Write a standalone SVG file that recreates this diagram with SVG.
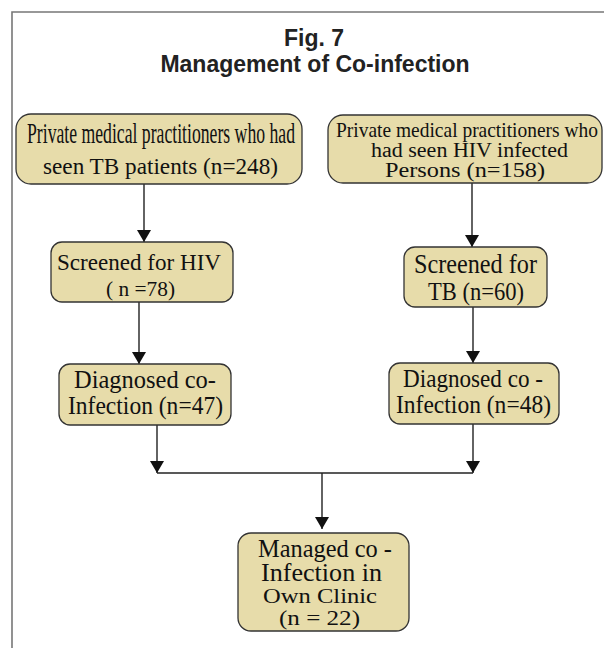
<svg xmlns="http://www.w3.org/2000/svg" width="604" height="648" viewBox="0 0 604 648">
<defs>
<style>
.box{fill:#E7DCAA;stroke:#333;stroke-width:1.3}
.t{font-family:"Liberation Serif","Times New Roman",serif;fill:#111;text-anchor:middle}
.title{font-family:"Liberation Sans",Arial,sans-serif;font-weight:bold;font-size:23px;fill:#222;text-anchor:middle}
.c{stroke:#222;stroke-width:1.4;fill:none}
.frame{stroke:#777;stroke-width:1.6;fill:none}
</style>
<marker id="ah" markerUnits="userSpaceOnUse" markerWidth="12" markerHeight="14" refX="12" refY="7" orient="auto" viewBox="0 0 12 14">
<path d="M0,0 L12,7 L0,14 z" fill="#111"/>
</marker>
</defs>
<rect width="604" height="648" fill="#fff"/>
<path class="frame" d="M12,648 V12 H604"/>
<g id="title">
<text class="title" x="314" y="46">Fig. 7</text>
<text class="title" x="315" y="72">Management of Co-infection</text>
</g>
<g id="connectors">
<line class="c" x1="144" y1="184" x2="144" y2="242" marker-end="url(#ah)"/>
<line class="c" x1="139" y1="302" x2="139" y2="364" marker-end="url(#ah)"/>
<line class="c" x1="472" y1="183" x2="472" y2="247" marker-end="url(#ah)"/>
<line class="c" x1="473" y1="307" x2="473" y2="363" marker-end="url(#ah)"/>
<line class="c" x1="157" y1="425" x2="157" y2="473" marker-end="url(#ah)"/>
<line class="c" x1="473" y1="424" x2="473" y2="473" marker-end="url(#ah)"/>
<line class="c" x1="157" y1="473" x2="473" y2="473" stroke="#444" stroke-width="1.6"/>
<line class="c" x1="322" y1="473" x2="322" y2="529" marker-end="url(#ah)"/>
</g>
<g id="node-tb-practitioners">
<rect class="box" x="16" y="114" width="286" height="70" rx="15"/>
<text class="t" x="161" y="143" font-size="29" textLength="268" lengthAdjust="spacingAndGlyphs">Private medical practitioners who had</text>
<text class="t" x="160.5" y="174" font-size="24" textLength="235" lengthAdjust="spacingAndGlyphs">seen TB patients (n=248)</text>
</g>
<g id="node-hiv-practitioners">
<rect class="box" x="328" y="115" width="274" height="68" rx="15"/>
<text class="t" x="467" y="137" font-size="22" textLength="262" lengthAdjust="spacingAndGlyphs">Private medical practitioners who</text>
<text class="t" x="469.5" y="157" font-size="20" textLength="197" lengthAdjust="spacingAndGlyphs">had seen HIV infected</text>
<text class="t" x="465" y="177" font-size="20" textLength="160" lengthAdjust="spacingAndGlyphs">Persons (n=158)</text>
</g>
<g id="node-screened-hiv">
<rect class="box" x="51" y="242" width="182" height="60" rx="11"/>
<text class="t" x="139" y="270" font-size="23" textLength="164" lengthAdjust="spacingAndGlyphs">Screened for HIV</text>
<text class="t" x="140.5" y="296" font-size="20" textLength="69" lengthAdjust="spacingAndGlyphs">( n =78)</text>
</g>
<g id="node-screened-tb">
<rect class="box" x="404" y="247" width="143" height="60" rx="11"/>
<text class="t" x="475.5" y="273" font-size="27" textLength="123" lengthAdjust="spacingAndGlyphs">Screened for</text>
<text class="t" x="476" y="300" font-size="26" textLength="96" lengthAdjust="spacingAndGlyphs">TB (n=60)</text>
</g>
<g id="node-diagnosed-left">
<rect class="box" x="59" y="364" width="172" height="61" rx="11"/>
<text class="t" x="145" y="388" font-size="25" textLength="142" lengthAdjust="spacingAndGlyphs">Diagnosed co-</text>
<text class="t" x="145.5" y="414" font-size="25" textLength="155" lengthAdjust="spacingAndGlyphs">Infection (n=47)</text>
</g>
<g id="node-diagnosed-right">
<rect class="box" x="389" y="363" width="170" height="61" rx="11"/>
<text class="t" x="473" y="387" font-size="25" textLength="140" lengthAdjust="spacingAndGlyphs">Diagnosed co -</text>
<text class="t" x="473.5" y="413" font-size="25" textLength="155" lengthAdjust="spacingAndGlyphs">Infection (n=48)</text>
</g>
<g id="node-managed">
<rect class="box" x="238" y="533" width="171" height="98" rx="13"/>
<text class="t" x="325" y="557" font-size="25" textLength="134" lengthAdjust="spacingAndGlyphs">Managed co -</text>
<text class="t" x="321.5" y="581" font-size="26" textLength="121" lengthAdjust="spacingAndGlyphs">Infection in</text>
<text class="t" x="320" y="603" font-size="21" textLength="114" lengthAdjust="spacingAndGlyphs">Own Clinic</text>
<text class="t" x="319.5" y="625" font-size="21" textLength="81" lengthAdjust="spacingAndGlyphs">(n = 22)</text>
</g>
</svg>
